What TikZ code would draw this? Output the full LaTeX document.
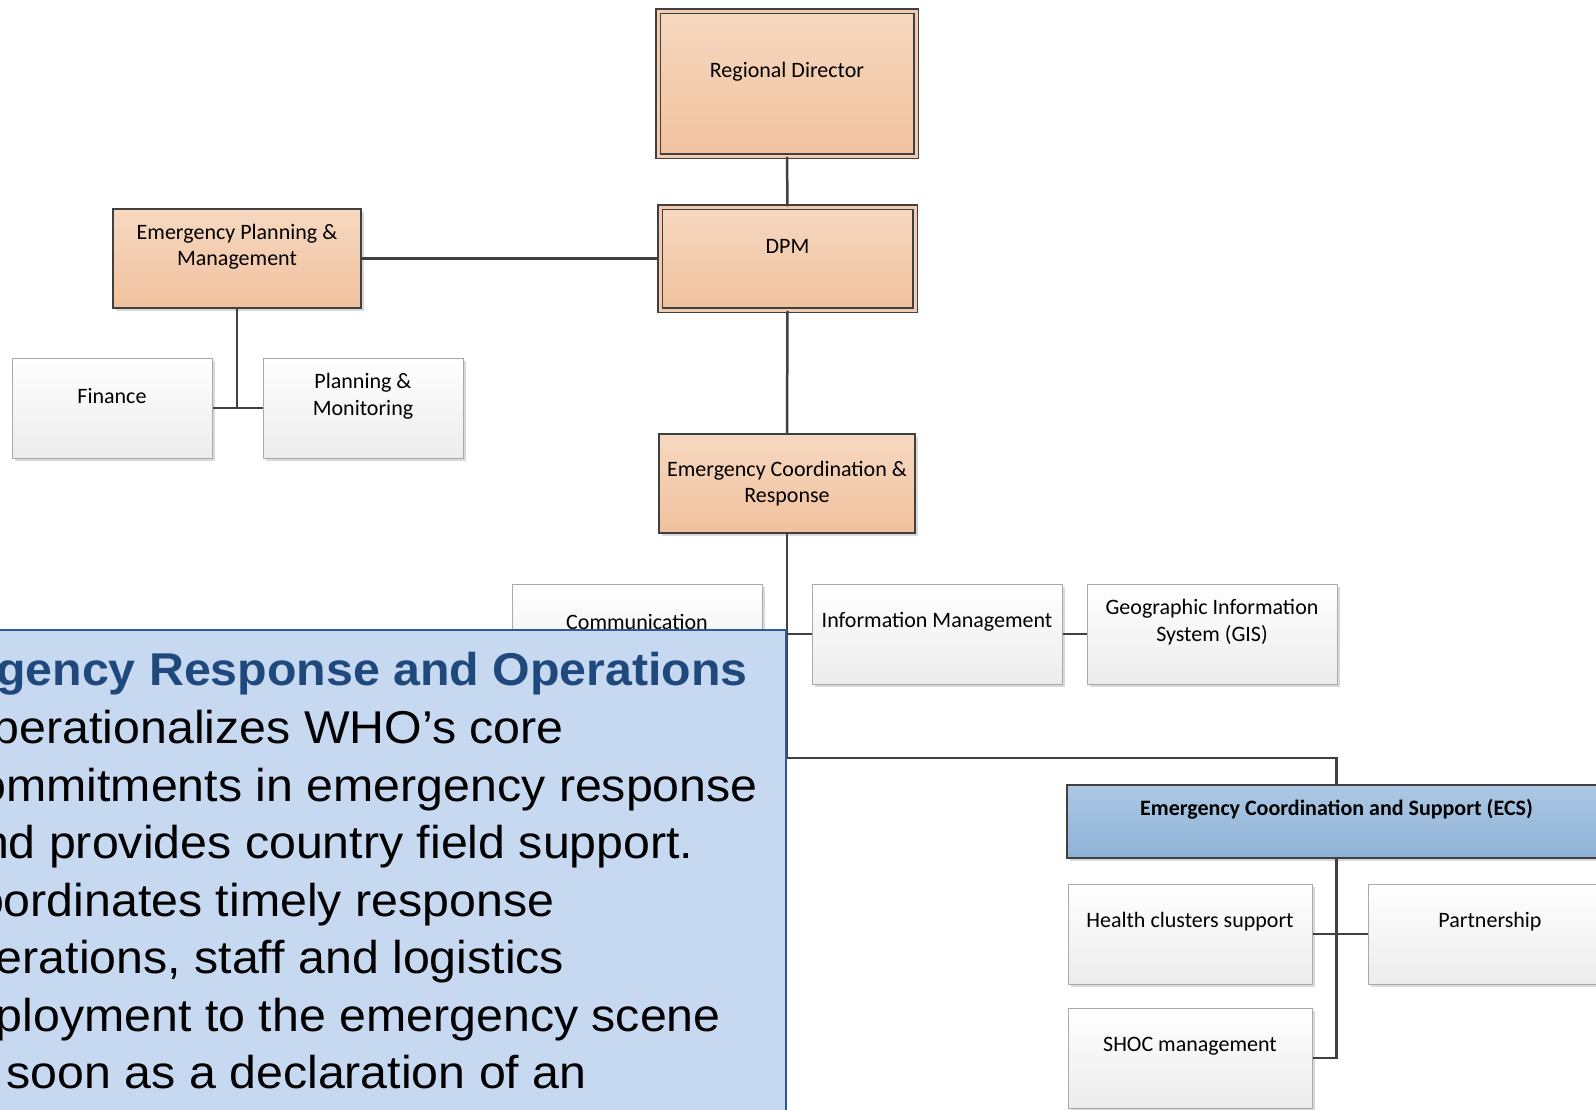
\documentclass[tikz,border=0pt]{standalone}
\usepackage{fontspec}
\setmainfont{Carlito}
\newfontfamily\slidefont[FakeStretch=1.05]{Liberation Sans}
\usetikzlibrary{shadows}

\definecolor{peachtop}{RGB}{246,216,192}
\definecolor{peachbot}{RGB}{241,193,158}
\definecolor{greytop}{RGB}{255,255,255}
\definecolor{greybot}{RGB}{236,236,236}
\definecolor{greyline}{RGB}{170,170,170}
\definecolor{ecstop}{RGB}{172,200,228}
\definecolor{ecsbot}{RGB}{142,178,214}
\definecolor{linkc}{RGB}{64,64,64}
\definecolor{panelfill}{RGB}{198,217,241}
\definecolor{panelline}{RGB}{47,88,150}
\definecolor{paneltitle}{RGB}{31,73,125}

\tikzset{
	unit/.style={rectangle,inner sep=0pt,minimum width=250pt,minimum height=100pt,
		drop shadow={shadow xshift=3pt,shadow yshift=-3pt,opacity=0.15,fill=black}},
	lbl/.style={yshift=12pt,font=\fontsize{22}{26.5}\selectfont,align=center,text=black},
	peach/.style={unit,draw=linkc,line width=2pt,top color=peachtop,bottom color=peachbot},
	head/.style={peach,line width=1.5pt,double=peachtop!50!peachbot,double distance=3pt},
	plain/.style={unit,draw=greyline,line width=1pt,top color=greytop,bottom color=greybot},
	ecsbox/.style={unit,draw=linkc,line width=2pt,top color=ecstop,bottom color=ecsbot},
	link/.style={draw=linkc,line width=2.5pt},
	panel/.style={rectangle,inner sep=0pt,draw=panelline,line width=2pt,fill=panelfill},
	paneltop/.style={inner sep=0pt,text=paneltitle,font=\slidefont\fontsize{46}{57.5}\selectfont\bfseries},
	panelbody/.style={inner sep=0pt,text=black,font=\slidefont\fontsize{46}{57.5}\selectfont}
}

\begin{document}
\begin{tikzpicture}[x=1pt,y=-1pt]
\path[use as bounding box] (0,0) rectangle (1596,1109);
\clip (0,0) rectangle (1596,1109);

% top of the chart
\node[head,minimum width=258pt,minimum height=145pt,
	label={[lbl]center:Regional Director}] (rd) at (787,83.5) {};
\node[head,minimum width=255pt,minimum height=103pt,
	label={[lbl]center:DPM}] (dpm) at (787.5,258.5) {};
\node[peach,minimum width=248pt,minimum height=99pt,
	label={[lbl]center:Emergency Planning \&\\Management}] (epm) at (237,258.5) {};
\node[plain,minimum width=200pt,label={[lbl]center:Finance}] (fin) at (112,408) {};
\node[plain,minimum width=200pt,label={[lbl]center:Planning \&\\Monitoring}] (pm) at (363,408) {};
\node[peach,minimum width=256pt,minimum height=99pt,
	label={[lbl,yshift=-12pt]center:Emergency Coordination \&\\Response}] (ecr) at (787,483.5) {};

% units under coordination & response
\node[plain,label={[lbl]center:Communication}] (comm) at (637,634) {};
\node[plain,label={[lbl]center:Information Management}] (im) at (937,634) {};
\node[plain,label={[lbl]center:Geographic Information\\System (GIS)}] (gis) at (1212,634) {};
\node[ecsbox,minimum width=539pt,minimum height=73pt,
	label={[lbl,font=\fontsize{22}{26.5}\selectfont\bfseries]center:Emergency Coordination and Support (ECS)}] (ecs) at (1336.5,821.5) {};
\node[plain,minimum width=244pt,label={[lbl]center:Health clusters support}] (hcs) at (1190,934) {};
\node[plain,minimum width=244pt,label={[lbl]center:Partnership}] (part) at (1490,934) {};
\node[plain,minimum width=244pt,label={[lbl]center:SHOC management}] (shoc) at (1190,1058) {};

% connectors
\coordinate (ecsbus) at (787,758);
\draw[link] (rd.south) -- (dpm.north);
\draw[link] (epm.east) -- (dpm.west);
\draw[link] (epm.south) -- (epm.south |- fin.east);
\draw[link] (fin.east) -- (pm.west);
\draw[link] (dpm.south) -- (ecr.north);
\draw[link] (ecr.south) -- (ecsbus) -| (ecs.north);
\draw[link] (comm.east) -- (im.west);
\draw[link] (im.east) -- (gis.west);
\draw[link] (ecs.south) |- (shoc.east);
\draw[link] (hcs.east) -- (part.west);

% text panel laid over the chart
\node[panel,anchor=north east,minimum width=900pt,minimum height=520pt] (ero) at (787,629) {};
\node[paneltop,anchor=base east] (erotitle) at (748,685) {Emergency Response and Operations};
\foreach \ln [count=\i] in {Operationalizes WHO’s core,commitments in emergency response,
	and provides country field support.}
	\node[panelbody,anchor=base west] (bodyA\i) at (-45,686+57.5*\i) {\ln};
\foreach \ln [count=\i] in {Coordinates timely response,{operations, staff and logistics},
	deployment to the emergency scene,as soon as a declaration of an}
	\node[panelbody,anchor=base west] (bodyB\i) at (-58,858.5+57.5*\i) {\ln};
\end{tikzpicture}
\end{document}
